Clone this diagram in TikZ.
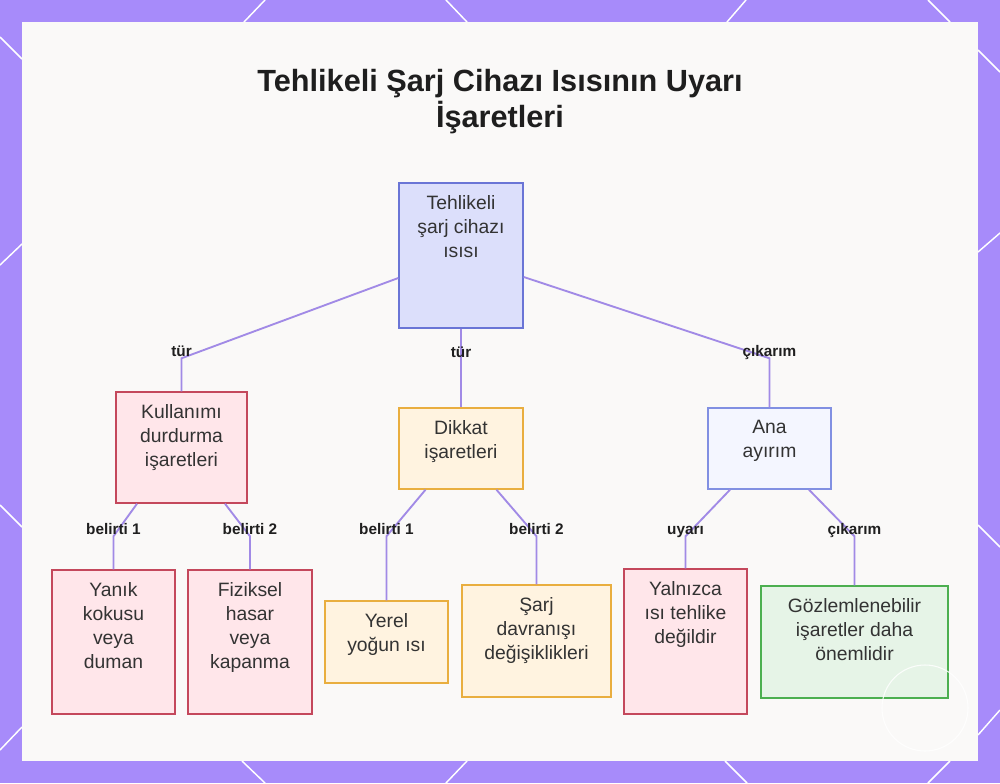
\documentclass[tikz,border=0pt]{standalone}
\usepackage{fontspec}
\setmainfont{Liberation Sans}
\usetikzlibrary{calc, positioning}
\definecolor{frame}{HTML}{A78BFA}
\definecolor{panel}{HTML}{FAF9F8}
\definecolor{linkpurple}{HTML}{A18AE6}
\definecolor{ink}{HTML}{333333}
\definecolor{tagink}{HTML}{1F1F1F}
\definecolor{titleink}{HTML}{1E1E1E}
\definecolor{rootfill}{HTML}{DCDFFB}
\definecolor{rootline}{HTML}{6A75D6}
\definecolor{stopfill}{HTML}{FFE6EA}
\definecolor{stopline}{HTML}{C4485C}
\definecolor{warnfill}{HTML}{FFF3E0}
\definecolor{warnline}{HTML}{E9AE3F}
\definecolor{corefill}{HTML}{F4F6FF}
\definecolor{coreline}{HTML}{8190E2}
\definecolor{okfill}{HTML}{E6F4E7}
\definecolor{okline}{HTML}{4CAF50}

\begin{document}
\begin{tikzpicture}[x=0.75pt, y=-0.75pt,
  link/.style={draw=linkpurple, line width=1.4pt},
  tag/.style={font=\bfseries\fontsize{11.5}{14}\selectfont, text=tagink, inner sep=1pt,
    text height=8.5pt, text depth=2.5pt},
  card/.style={rectangle, line width=1.1pt, inner sep=0pt},
  boxsize/.style 2 args={minimum width=#1*0.75pt, minimum height=#2*0.75pt},
  intext/.style={label={[inner sep=0pt, anchor=north, yshift=-9.5pt, align=center,
      font=\fontsize{14.5}{18}\selectfont, text=ink]north:#1}},
  rootcard/.style={card, draw=rootline, fill=rootfill},
  stopcard/.style={card, draw=stopline, fill=stopfill},
  warncard/.style={card, draw=warnline, fill=warnfill},
  corecard/.style={card, draw=coreline, fill=corefill},
  okcard/.style={card, draw=okline, fill=okfill},
  honey/.style={draw=white, line width=1.1pt}
]
  \useasboundingbox (0,0) rectangle (1000,783);
  \fill[frame] (0,0) rectangle (1000,783);

  % honeycomb lines in the frame
  \draw[honey] (265,0) -- (244,22);   \draw[honey] (446,0) -- (467,22);
  \draw[honey] (746,0) -- (727,22);   \draw[honey] (928,0) -- (950,22);
  \draw[honey] (242,761) -- (265,783); \draw[honey] (467,761) -- (446,783);
  \draw[honey] (725,761) -- (747,783); \draw[honey] (950,761) -- (928,783);
  \draw[honey] (0,37) -- (22,59);     \draw[honey] (0,265) -- (22,244);
  \draw[honey] (0,505) -- (22,527);   \draw[honey] (0,750) -- (22,727);
  \draw[honey] (978,50) -- (1000,72); \draw[honey] (978,252) -- (1000,233);
  \draw[honey] (978,525) -- (1000,547); \draw[honey] (978,735) -- (1000,710);

  \fill[panel] (22,22) rectangle (978,761);

  \node[font=\bfseries\fontsize{23}{27}\selectfont, text=titleink,
    align=center, anchor=north, inner sep=0pt] (title) at (500,69)
    {Tehlikeli Şarj Cihazı Isısının Uyarı\\İşaretleri};

  % boxes
  \node[rootcard, boxsize={124}{145}, intext={Tehlikeli\\şarj cihazı\\ısısı}] (root) at (461,255.5) {};
  \node[stopcard, boxsize={131}{111}, intext={Kullanımı\\durdurma\\işaretleri}] (stop) at (181.5,447.5) {};
  \node[warncard, boxsize={124}{81}, intext={Dikkat\\işaretleri}] (caution) at (461,448.5) {};
  \node[corecard, boxsize={123}{81}, intext={Ana\\ayırım}] (core) at (769.5,448.5) {};
  \node[stopcard, boxsize={123}{144}, intext={Yanık\\kokusu\\veya\\duman}] (smoke) at (113.5,642) {};
  \node[stopcard, boxsize={124}{144}, intext={Fiziksel\\hasar\\veya\\kapanma}] (damage) at (250,642) {};
  \node[warncard, boxsize={123}{82}, intext={Yerel\\yoğun ısı}] (local) at (386.5,642) {};
  \node[warncard, boxsize={149}{112}, intext={Şarj\\davranışı\\değişiklikleri}] (behav) at (536.5,641) {};
  \node[stopcard, boxsize={123}{145}, intext={Yalnızca\\ısı tehlike\\değildir}] (notalone) at (685.5,641.5) {};
  \node[okcard, boxsize={187}{112}, intext={Gözlemlenebilir\\işaretler daha\\önemlidir}] (observ) at (854.5,642) {};

  % connectors
  \draw[link] ($(root.west)+(0,22.5)$) -- ($(stop.north)+(0,-33)$) node[tag, yshift=4.5pt] {tür} -- (stop.north);
  \draw[link] (root.south) -- (caution.north) node[tag, pos=0.31] {tür};
  \draw[link] ($(root.east)+(0,21.5)$) -- ($(core.north)+(0,-49)$) node[tag, yshift=4.5pt] {çıkarım} -- (core.north);

  \draw[link] ($(stop.south)+(-44.5,0)$) -- ($(smoke.north)+(0,-33)$) node[tag, yshift=4.5pt] {belirti 1} -- (smoke.north);
  \draw[link] ($(stop.south)+(43.5,0)$) -- ($(damage.north)+(0,-33)$) node[tag, yshift=4.5pt] {belirti 2} -- (damage.north);
  \draw[link] ($(caution.south)+(-35.5,0)$) -- ($(local.north)+(0,-64)$) node[tag, yshift=4.5pt] {belirti 1} -- (local.north);
  \draw[link] ($(caution.south)+(35.5,0)$) -- ($(behav.north)+(0,-48)$) node[tag, yshift=4.5pt] {belirti 2} -- (behav.north);
  \draw[link] ($(core.south)+(-39.5,0)$) -- ($(notalone.north)+(0,-32)$) node[tag, yshift=4.5pt] {uyarı} -- (notalone.north);
  \draw[link] ($(core.south)+(39.5,0)$) -- ($(observ.north)+(0,-49)$) node[tag, yshift=4.5pt] {çıkarım} -- (observ.north);

  \draw[white, line width=0.8pt, opacity=0.85] (925,708) circle (43);
\end{tikzpicture}
\end{document}
